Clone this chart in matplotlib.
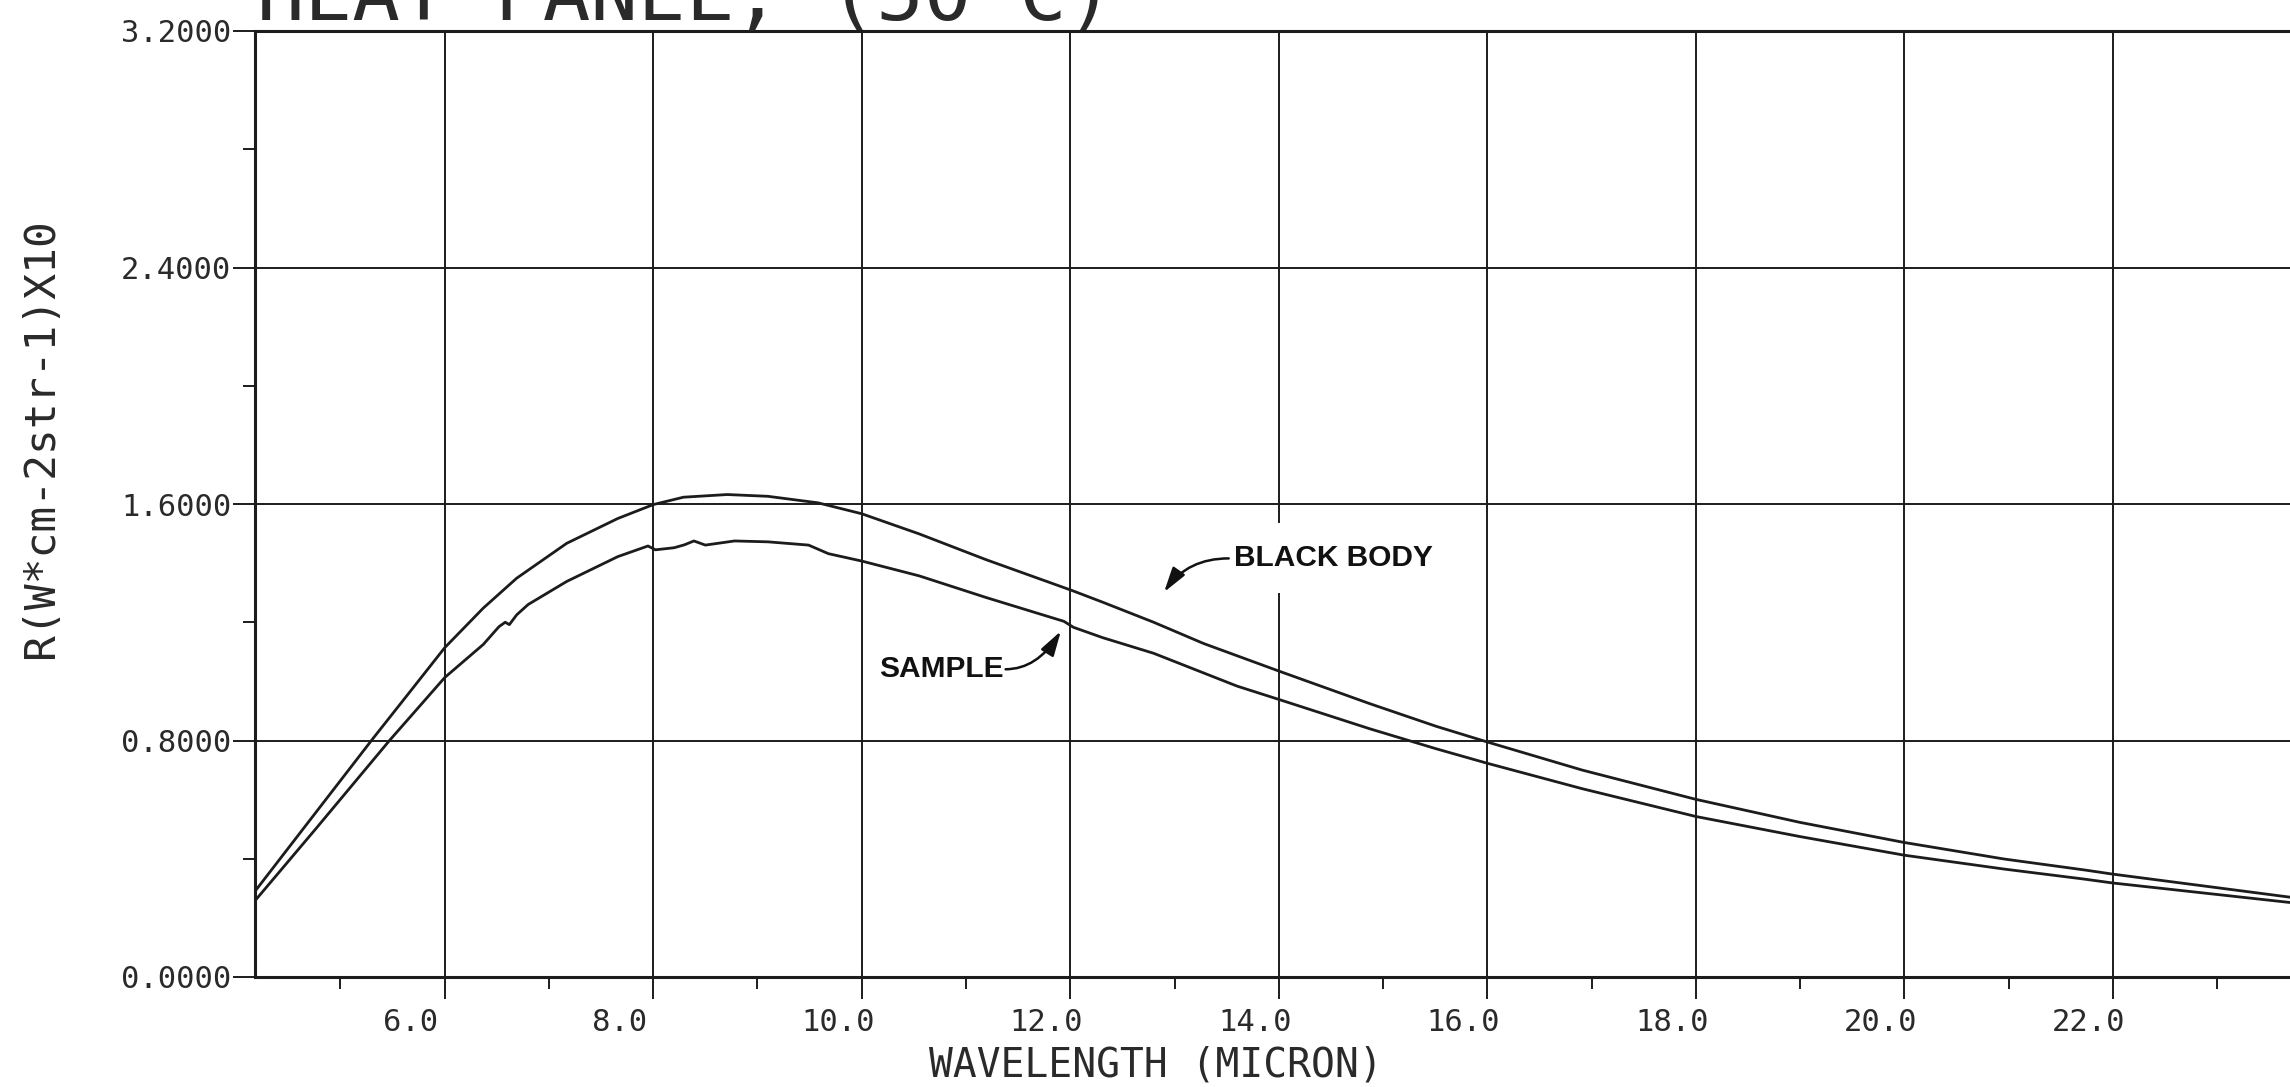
import matplotlib
matplotlib.use("Agg")
import matplotlib.pyplot as plt
import matplotlib.transforms as mtransforms

# ---- data ----
bb_wavelength = [4.18, 4.76, 5.31, 5.66, 6.00, 6.37, 6.69, 7.17, 7.66, 8.00, 8.29, 8.71,
                 9.10, 9.58, 10.0, 10.55, 11.19, 12.02, 12.31, 12.8, 13.28, 14.0, 14.87,
                 15.51, 16.0, 16.91, 18.0, 19.0, 20.0, 20.96, 21.73, 22.0, 23.70]
bb_radiance = [0.290, 0.555, 0.806, 0.962, 1.114, 1.248, 1.349, 1.467, 1.551, 1.598, 1.623, 1.632,
               1.626, 1.604, 1.567, 1.499, 1.412, 1.307, 1.268, 1.200, 1.128, 1.035, 0.925,
               0.848, 0.795, 0.700, 0.601, 0.523, 0.455, 0.399, 0.362, 0.348, 0.270]

sample_wavelength = [4.18, 4.76, 5.47, 6.00, 6.37, 6.52, 6.58, 6.62, 6.69, 6.80, 7.17, 7.66,
                     7.95, 8.02, 8.20, 8.30, 8.39, 8.50, 8.78, 9.10, 9.49, 9.68, 10.0, 10.55,
                     11.19, 11.94, 12.03, 12.31, 12.8, 13.6, 14.0, 14.87, 15.51, 16.0, 16.91,
                     18.0, 19.0, 20.0, 20.96, 21.73, 22.0, 23.70]
sample_radiance = [0.258, 0.500, 0.800, 1.013, 1.125, 1.185, 1.200, 1.192, 1.225, 1.260, 1.338, 1.422,
                   1.458, 1.445, 1.452, 1.462, 1.475, 1.461, 1.475, 1.472, 1.461, 1.432, 1.407, 1.357,
                   1.284, 1.203, 1.183, 1.148, 1.095, 0.984, 0.939, 0.840, 0.772, 0.723, 0.637,
                   0.543, 0.475, 0.412, 0.365, 0.331, 0.318, 0.252]

x_major = [6.0, 8.0, 10.0, 12.0, 14.0, 16.0, 18.0, 20.0, 22.0]
x_minor = [5.0, 7.0, 9.0, 11.0, 13.0, 15.0, 17.0, 19.0, 21.0, 23.0]
y_major = [0.0, 0.8, 1.6, 2.4, 3.2]
y_minor = [0.4, 1.2, 2.0, 2.8]

title_text = "HEAT PANEL, (50°C)"
x_label = "WAVELENGTH (MICRON)"
y_label = "R(W*cm-2str-1)X10"

INK = "#1c1c1c"
TXT = "#2a2a2a"
MONO = "DejaVu Sans Mono"

W, H = 2290, 1087
fig = plt.figure(figsize=(W / 100, H / 100), dpi=100)
fig.patch.set_facecolor("white")

left_px, bottom_px, top_px = 255, 977, 31
ax = fig.add_axes([left_px / W, (H - bottom_px) / H, 1 - left_px / W, (bottom_px - top_px) / H])

ax.plot(bb_wavelength, bb_radiance, color=INK, lw=2.0, zorder=3)
ax.plot(sample_wavelength, sample_radiance, color=INK, lw=2.0, zorder=3)

ax.set_xlim(4.18, 23.70)
ax.set_ylim(0.0, 3.2)

ax.set_xticks(x_major)
ax.set_xticks(x_minor, minor=True)
ax.set_yticks(y_major)
ax.set_yticks(y_minor, minor=True)
ax.set_xticklabels([f"{v:.1f}" for v in x_major])
ax.set_yticklabels([f"{v:.4f}" for v in y_major])

ax.grid(True, which="major", color=INK, lw=1.4)
ax.set_axisbelow(True)

ax.tick_params(axis="both", which="major", direction="out", length=16, width=1.4,
               color=INK, labelcolor=TXT, labelsize=22)
ax.tick_params(axis="both", which="minor", direction="out", length=8.5, width=1.4, color=INK)
ax.tick_params(axis="y", which="major", pad=1)
ax.tick_params(axis="x", which="major", pad=6)
for lab in ax.get_xticklabels() + ax.get_yticklabels():
    lab.set_family(MONO)
for lab in ax.get_xticklabels():
    shift = -0.34 if len(lab.get_text()) == 3 else -0.24
    lab.set_transform(lab.get_transform() +
                      mtransforms.ScaledTranslation(shift, 0, fig.dpi_scale_trans))

for side in ["left", "bottom", "top"]:
    ax.spines[side].set_linewidth(2.2)
    ax.spines[side].set_color(INK)
ax.spines["right"].set_visible(False)

# labels
fig.text(1156 / W, 1 - 1066 / H, x_label, ha="center", va="center",
         family=MONO, fontsize=28.5, color=TXT)
fig.text(41 / W, 1 - 438 / H, y_label, ha="center", va="center", rotation=90,
         family=MONO, fontsize=31, color=TXT)
# title, mostly cut off by the top edge as in the reference scan
fig.text(257 / W, 1 - 20 / H, title_text, ha="left", va="baseline",
         family=MONO, fontsize=57, color=TXT)

# annotations
ann_font = dict(family=["Liberation Sans Narrow", "Liberation Sans"], weight="bold",
                fontsize=21.5, color="#111111")
ax.text(13.57, 1.416, "BLACK BODY", ha="left", va="center", zorder=4,
        bbox=dict(boxstyle="square,pad=0.7", fc="white", ec="none"), **ann_font)
ax.text(11.36, 1.041, "SAMPLE", ha="right", va="center", zorder=4, **ann_font)

arrow_kw = dict(arrowstyle="-|>,head_length=0.75,head_width=0.22", color="#111111",
                lw=1.8, shrinkA=0, shrinkB=0, mutation_scale=20)
ax.annotate("", xy=(12.90, 1.302), xytext=(13.52, 1.416), zorder=5,
            arrowprops=dict(connectionstyle="angle3,angleA=0,angleB=55", **arrow_kw))
ax.annotate("", xy=(11.91, 1.170), xytext=(11.38, 1.041), zorder=5,
            arrowprops=dict(connectionstyle="angle3,angleA=0,angleB=58", **arrow_kw))

fig.savefig("out.png", dpi=100, facecolor="white")
